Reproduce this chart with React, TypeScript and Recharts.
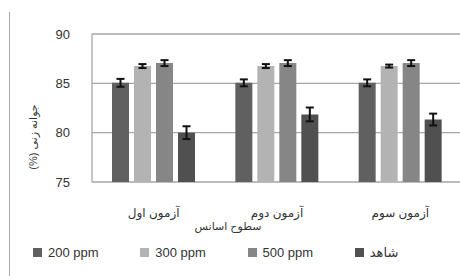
import React from 'react';
import { BarChart, Bar, XAxis, YAxis, CartesianGrid, Legend, ErrorBar, Label } from 'recharts';

const categories = ['آزمون اول', 'آزمون دوم', 'آزمون سوم'];
const seriesNames = ['200 ppm', '300 ppm', '500 ppm', 'شاهد'];
const ppm200 = [85.05, 85.05, 85.05];
const err200 = [0.4, 0.35, 0.35];
const ppm300 = [86.75, 86.75, 86.75];
const err300 = [0.2, 0.2, 0.15];
const ppm500 = [87.05, 87.05, 87.05];
const err500 = [0.3, 0.3, 0.3];
const control = [80.0, 81.85, 81.33];
const errControl = [0.65, 0.7, 0.6];
const yTicks = [75, 80, 85, 90];
const boundaryTicks = [0, 1, 2, 3];
const xTitle = 'سطوح اسانس';
const yTitle = 'جوانه زنی (%)';

const colors = ['#606060', '#b3b3b3', '#868686', '#505050'];
const FONT = '"Liberation Sans", Arial, "DejaVu Sans", sans-serif';

const data = categories.map((c, i) => ({
  name: c,
  idx: i + 0.5,
  s0: ppm200[i], e0: err200[i],
  s1: ppm300[i], e1: err300[i],
  s2: ppm500[i], e2: err500[i],
  s3: control[i], e3: errControl[i],
}));

const LegendContent = (props: any) => {
  const payload = props.payload || [];
  return (
    <div style={{ display: 'flex', paddingLeft: 33, height: 24, alignItems: 'center', fontFamily: FONT, fontSize: 13, color: '#333' }}>
      {payload.map((p: any, i: number) => (
        <div key={i} style={{ width: 121, display: 'flex', alignItems: 'center' }}>
          <span style={{ display: 'inline-block', width: 9, height: 9, background: p.color, marginRight: 6 }} />
          <span>{p.value}</span>
        </div>
      ))}
    </div>
  );
};

export default function App() {
  return (
    <div style={{ position: 'absolute', left: 0, top: 0, width: 460, height: 276, background: '#fff', overflow: 'hidden' }}>
      <div style={{ position: 'absolute', left: 9, top: 12, width: 0, height: 264, borderLeft: '1.5px solid #a8a8a8' }} />
      <BarChart
        width={475}
        height={276}
        data={data}
        margin={{ top: 34, right: 13, bottom: 12, left: 0 }}
        barCategoryGap={20}
        barGap={5}
        style={{ fontFamily: FONT }}
      >
        <CartesianGrid vertical={false} stroke="#a6a6a6" strokeWidth={1.3} />
        <XAxis
          xAxisId="b"
          type="number"
          dataKey="idx"
          domain={[0, 3]}
          ticks={boundaryTicks}
          tick={false}
          height={0}
          tickSize={6}
          axisLine={{ stroke: '#a6a6a6', strokeWidth: 1.3 }}
          tickLine={{ stroke: '#a6a6a6', strokeWidth: 1.3 }}
        />
        <XAxis
          dataKey="name"
          height={58}
          axisLine={false}
          tickLine={false}
          tickSize={6}
          tickMargin={20}
          tick={{ fill: '#333', fontSize: 12, fontFamily: FONT }}
          interval={0}
        >
          <Label
            content={(p: any) => {
              const vb = p.viewBox || {};
              return (
                <text x={vb.x + 136} y={vb.y + 48} textAnchor="middle" direction="rtl" fill="#333" fontSize={11} fontFamily={FONT}>
                  {xTitle}
                </text>
              );
            }}
          />
        </XAxis>
        <YAxis
          width={92}
          domain={[75, 90]}
          ticks={yTicks}
          allowDataOverflow
          axisLine={{ stroke: '#a6a6a6', strokeWidth: 1.3 }}
          tickLine={false}
          tickSize={6}
          tickMargin={16}
          tick={{ fill: '#333', fontSize: 13, fontFamily: FONT }}
        >
          <Label
            content={(p: any) => {
              const vb = p.viewBox || {};
              const x = vb.x + 33;
              const y = vb.y + 103;
              return (
                <text x={x} y={y} transform={`rotate(-90, ${x}, ${y})`} textAnchor="middle" dominantBaseline="central" direction="rtl" fill="#333" fontSize={11} fontFamily={FONT}>
                  {yTitle}
                </text>
              );
            }}
          />
        </YAxis>
        <Legend verticalAlign="bottom" height={24} content={<LegendContent />} />
        {[0, 1, 2, 3].map((k) => (
          <Bar key={k} dataKey={`s${k}`} name={seriesNames[k]} fill={colors[k]} isAnimationActive={false}>
            <ErrorBar dataKey={`e${k}`} width={4} stroke="#111" strokeWidth={2} isAnimationActive={false} />
          </Bar>
        ))}
      </BarChart>
    </div>
  );
}
